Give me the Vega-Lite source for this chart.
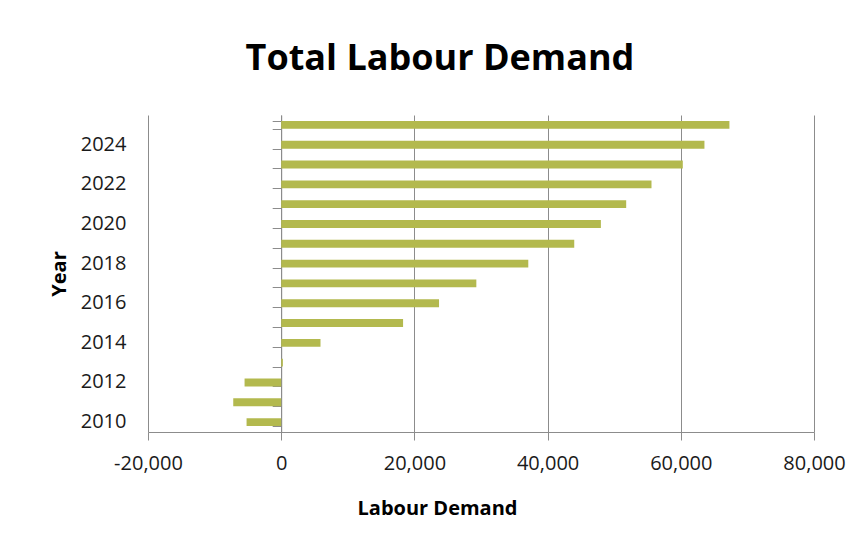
{
  "$schema": "https://vega.github.io/schema/vega-lite/v6.json",
  "width": 666,
  "height": 317,
  "autosize": {"type": "none"},
  "padding": {"left": 148, "top": 115, "right": 48, "bottom": 112},
  "background": "white",
  "title": {
    "text": "Total Labour Demand",
    "font": "Open Sans",
    "fontSize": 36,
    "fontWeight": "bold",
    "color": "#000000",
    "anchor": "middle",
    "baseline": "alphabetic",
    "offset": 8,
    "dx": -41
  },
  "config": {
    "view": {"stroke": null},
    "axis": {"labelFont": "Open Sans", "titleFont": "Open Sans", "labelColor": "#1a1a1a", "titleColor": "#000000"}
  },
  "data": {
    "values": [
      {"Year": "2010", "Demand": -5200},
      {"Year": "2011", "Demand": -7200},
      {"Year": "2012", "Demand": -5500},
      {"Year": "2013", "Demand": 250},
      {"Year": "2014", "Demand": 5900},
      {"Year": "2015", "Demand": 18300},
      {"Year": "2016", "Demand": 23700},
      {"Year": "2017", "Demand": 29300},
      {"Year": "2018", "Demand": 37100},
      {"Year": "2019", "Demand": 44000},
      {"Year": "2020", "Demand": 48000},
      {"Year": "2021", "Demand": 51800},
      {"Year": "2022", "Demand": 55600},
      {"Year": "2023", "Demand": 60300},
      {"Year": "2024", "Demand": 63550},
      {"Year": "2025", "Demand": 67300}
    ]
  },
  "encoding": {
    "x": {
      "field": "Demand",
      "type": "quantitative",
      "scale": {"domain": [-20000, 80000], "nice": false, "zero": false},
      "axis": {
        "values": [-20000, 0, 20000, 40000, 60000, 80000],
        "labelExpr": "datum.value < 0 ? '-' + format(-datum.value, ',d') : format(datum.value, ',d')",
        "labelFlush": false,
        "labelOverlap": false,
        "title": "Labour Demand",
        "titleFontSize": 20,
        "titleFontWeight": "bold",
        "titlePadding": 25,
        "titleX": 289,
        "labelFontSize": 20,
        "labelPadding": 13,
        "grid": true,
        "gridColor": "#8c8c8c",
        "gridWidth": 1,
        "domainColor": "#8c8c8c",
        "tickColor": "#8c8c8c",
        "tickSize": 8
      }
    }
  },
  "layer": [
    {
      "mark": {"type": "bar", "color": "#b3b94e"},
      "encoding": {
        "y": {
          "field": "Year",
          "type": "ordinal",
          "sort": "descending",
          "scale": {"paddingInner": 0.6, "paddingOuter": 0.3},
          "axis": {
            "orient": "left",
            "title": "Year",
            "titleFontSize": 20,
            "titleFontWeight": "bold",
            "titlePadding": 11,
            "labelFontSize": 20,
            "labelPadding": 22,
            "labelExpr": "datum.value % 2 == 0 ? datum.label : ''",
            "ticks": false,
            "domain": false,
            "grid": false
          }
        }
      }
    },
    {
      "mark": {"type": "bar", "color": "#b3b94e", "opacity": 0},
      "encoding": {
        "y": {
          "field": "Year",
          "type": "ordinal",
          "sort": "descending",
          "axis": {
            "orient": "left",
            "offset": -133.2,
            "title": null,
            "labels": false,
            "ticks": true,
            "tickBand": "extent",
            "tickSize": 9,
            "tickColor": "#8c8c8c",
            "domain": true,
            "domainColor": "#8c8c8c",
            "grid": false
          }
        }
      }
    }
  ],
  "resolve": {"axis": {"y": "independent"}}
}
